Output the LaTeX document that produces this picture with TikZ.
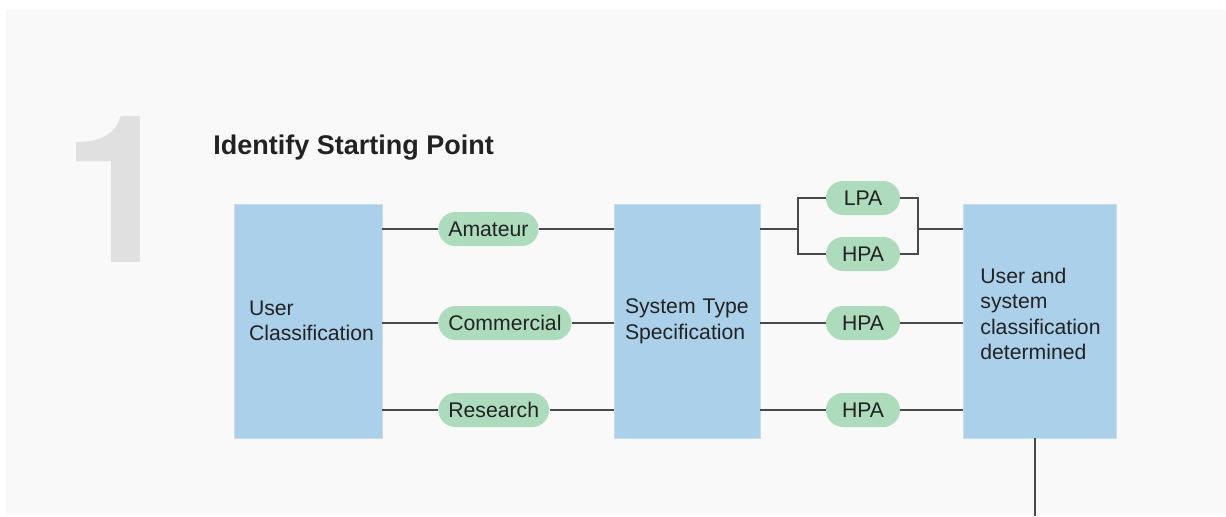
\documentclass[tikz,border=0pt]{standalone}
\usepackage{fontspec}
\setmainfont{Liberation Sans}
\newfontfamily\numfont{TeX Gyre Heros}
\usepackage{tikz}
\usetikzlibrary{positioning,calc}
\definecolor{panel}{HTML}{F9F9F9}
\definecolor{blk}{HTML}{ABD0EA}
\definecolor{pil}{HTML}{ADDCBD}
\definecolor{ink}{HTML}{222222}
\definecolor{wire}{HTML}{4A4A4A}
\definecolor{numgray}{HTML}{E0E0E0}
\tikzset{
  blkbox/.style={rectangle, fill=blk, draw=blk!70!white, line width=0.4pt, align=left,
                 minimum height=117pt, text=ink, font=\fontsize{10.6}{12.8}\selectfont},
  pill/.style ={rectangle, rounded corners=8.5pt, fill=pil, minimum height=17pt,
                inner xsep=5pt, inner ysep=0pt, text=ink, font=\fontsize{10.6}{12.8}\selectfont},
  pa/.style   ={pill, minimum width=37pt},
  ln/.style   ={draw=wire, line width=1pt},
}
\begin{document}
\begin{tikzpicture}[x=0.5pt,y=-0.5pt]
\useasboundingbox (0,0) rectangle (1226,516);
\fill[panel] (6,10) rectangle (1226,515);
\node[anchor=base, inner sep=0pt, text=numgray, font=\numfont\fontsize{103}{103}\selectfont\bfseries] (num) at (120,262) {1};
\node[anchor=base west, inner sep=0pt, text=ink, font=\fontsize{13.5}{16}\selectfont\bfseries] (title) at (213,154) {Identify Starting Point};
% the three stages
\node[blkbox, minimum width=74pt, text width=59pt, inner xsep=7.5pt] (user) at (308,321) {User\\Classification};
\node[blkbox, minimum width=73pt, text width=62pt, inner xsep=5.5pt] (sys) at (687,321) {System Type\\Specification};
\node[blkbox, minimum width=76.5pt] (res) at (1039.5,321) {};
\node[anchor=west, align=left, inner sep=0pt, text=ink, font=\fontsize{10.6}{12.8}\selectfont] (restxt) at (980,314) {User and\\system\\classification\\determined};
% user types
\node[pill, anchor=west] (amat) at (438,229) {Amateur};
\node[pill, anchor=west] (comm) at (438,323) {Commercial};
\node[pill, anchor=west] (rsch) at (438,410) {Research};
\draw[ln] (user.east |- amat.west) -- (amat.west);
\draw[ln] (user.east |- comm.west) -- (comm.west);
\draw[ln] (user.east |- rsch.west) -- (rsch.west);
\draw[ln] (amat.east) -- (amat.east -| sys.west);
\draw[ln] (comm.east) -- (comm.east -| sys.west);
\draw[ln] (rsch.east) -- (rsch.east -| sys.west);
% system types
\node[pa] (lpa) at (863,198) {LPA};
\node[pa] (hpaA) at (863,254) {HPA};
\node[pa] (hpaB) at (863,323) {HPA};
\node[pa] (hpaC) at (863,410) {HPA};
\coordinate (split) at (798,229);
\coordinate (join) at (918,229);
\draw[ln] (sys.east |- split) -- (split);
\draw[ln] (lpa.west) -| (split) |- (hpaA.west);
\draw[ln] (lpa.east) -| (join) |- (hpaA.east);
\draw[ln] (join) -- (join -| res.west);
\draw[ln] (sys.east |- hpaB.west) -- (hpaB.west);
\draw[ln] (hpaB.east) -- (hpaB.east -| res.west);
\draw[ln] (sys.east |- hpaC.west) -- (hpaC.west);
\draw[ln] (hpaC.east) -- (hpaC.east -| res.west);
% on to the next step
\coordinate (down) at (1035,516);
\draw[ln] (down |- res.south) -- (down);
\end{tikzpicture}
\end{document}
